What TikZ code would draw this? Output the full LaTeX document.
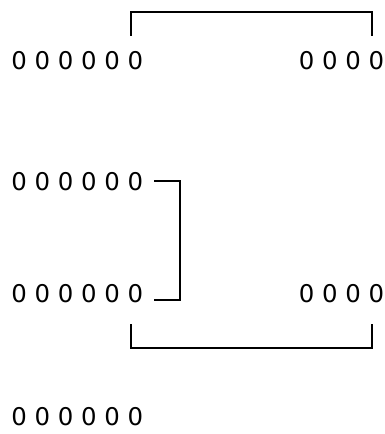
\documentclass[tikz,border=0pt]{standalone}
\usepackage{fontspec}
\setmainfont{DejaVu Sans}
\usetikzlibrary{calc}
\begin{document}
\begin{tikzpicture}[x=1pt,y=-1pt,
  lbl/.style={inner sep=0pt, font=\fontsize{24.4}{28}\selectfont},
  conn/.style={line width=2pt, draw=black}]
\useasboundingbox (0,0) rectangle (385,434);
\node[lbl, anchor=base west] (a1) at (11.1,69) {0 0 0 0 0 0};
\node[lbl, anchor=base east] (b1) at (384.5,69) {0 0 0 0};
\node[lbl, anchor=base west] (a2) at (11.1,190.5) {0 0 0 0 0 0};
\node[lbl, anchor=base west] (a3) at (11.1,302.5) {0 0 0 0 0 0};
\node[lbl, anchor=base east] (b3) at (384.5,302.5) {0 0 0 0};
\node[lbl, anchor=base west] (a4) at (11.1,425.5) {0 0 0 0 0 0};
% top bracket
\draw[conn] ($(a1.north east)+(-12.5,-15)$) |- ($(b1.north east)+(-12.5,-39)$) -- ($(b1.north east)+(-12.5,-15)$);
% side bracket
\draw[conn] ($(a2.east)+(11,-1)$) -| ($(a3.east)+(37,6)$) -- ($(a3.east)+(11,6)$);
% bottom bracket
\draw[conn] ($(a3.south east)+(-12.5,21)$) |- ($(b3.south east)+(-12.5,45)$) -- ($(b3.south east)+(-12.5,21)$);
\end{tikzpicture}
\end{document}
